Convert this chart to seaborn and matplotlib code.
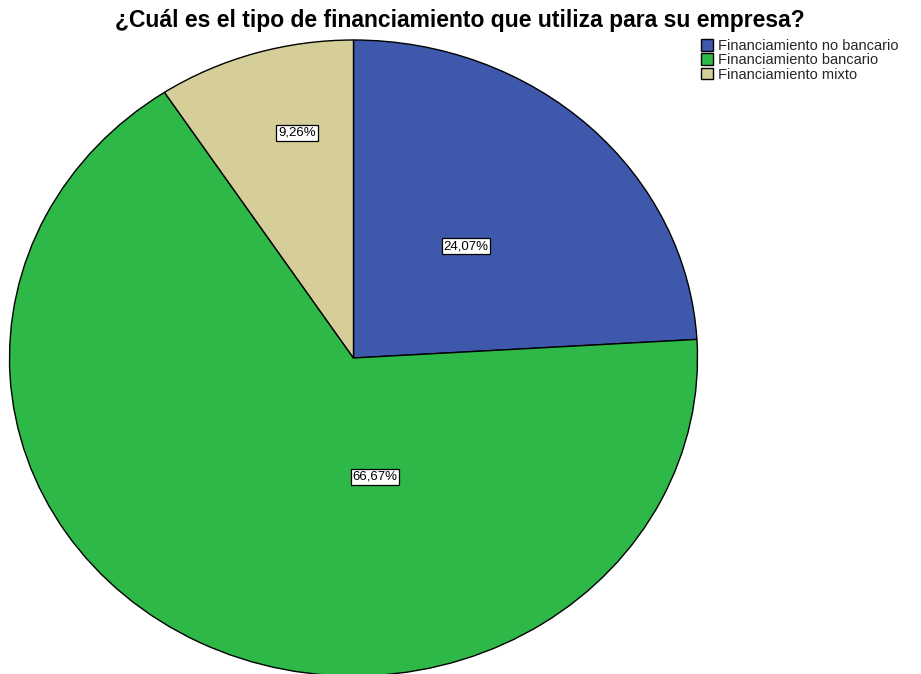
import numpy as np
import pandas as pd
import seaborn as sns
import matplotlib.pyplot as plt

sns.set_theme(style='white')
plt.rcParams['font.family'] = ['Liberation Sans', 'DejaVu Sans']

# Data
categorias = ["Financiamiento no bancario", "Financiamiento bancario", "Financiamiento mixto"]
porcentajes = [24.07, 66.67, 9.26]
colores = ["#3E58AC", "#2EB848", "#D5CE98"]
titulo = "¿Cuál es el tipo de financiamiento que utiliza para su empresa?"

df = pd.DataFrame({"tipo": categorias, "pct": porcentajes})

fig = plt.figure(figsize=(9.21, 6.74), dpi=100)
# pie is slightly stretched horizontally (as in the SPSS export)
ax = fig.add_axes([9.5 / 921, (674 - 676) / 674, 688 / 921, 636 / 674])

wedges, _ = ax.pie(df["pct"], colors=colores, startangle=90, counterclock=False,
                   radius=1, wedgeprops=dict(edgecolor='black', linewidth=1))
ax.set_xlim(-1.0, 1.0)
ax.set_ylim(-1.0, 1.0)
ax.set_aspect('auto')
ax.axis('off')

# label positions (SPSS style placement), in pie units
label_pos = [(0.327, 0.352), (0.0625, -0.374), (-0.164, 0.708)]
for (x, y), p in zip(label_pos, df["pct"]):
    ax.text(x, y, f"{p:.2f}".replace('.', ',') + "%", ha='center', va='center',
            fontsize=9.5, color='black',
            bbox=dict(boxstyle='square,pad=0.15', facecolor='white', edgecolor='black', linewidth=0.9))

fig.text(460 / 921, 1 - 21 / 674, titulo, ha='center', va='center',
         fontsize=16.5, fontweight='bold', color='black')

fig.legend(wedges, categorias, loc='upper left', bbox_to_anchor=(701 / 921, 1 - 39 / 674),
           frameon=False, fontsize=10.5, handlelength=0.85, handleheight=0.85,
           handletextpad=0.3, labelspacing=0.02, borderpad=0.0, borderaxespad=0.0)

fig.savefig("out.png", dpi=100)
